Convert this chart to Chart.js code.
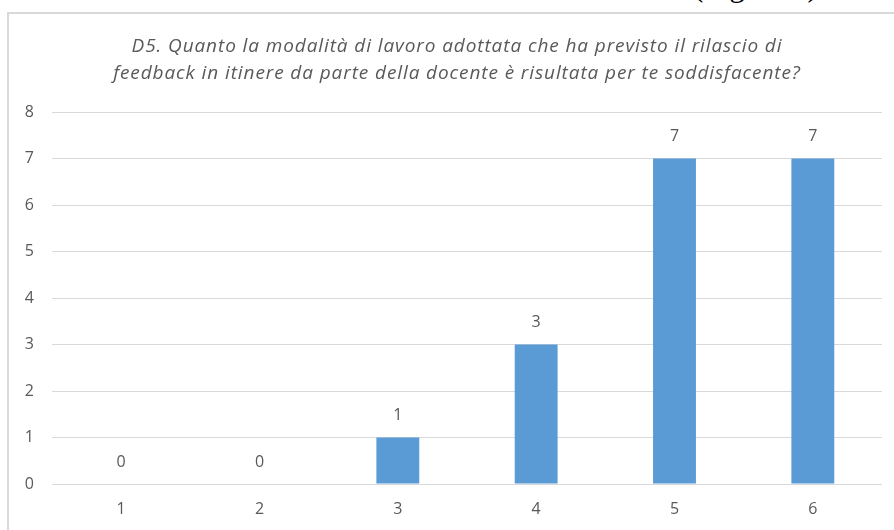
<!DOCTYPE html>
<html>
<head>
<meta charset="utf-8">
<script src="https://cdn.jsdelivr.net/npm/chart.js@4.4.1/dist/chart.umd.min.js"></script>
<style>
  html, body { margin: 0; padding: 0; background: #fff; }
  body { width: 894px; height: 530px; position: relative; overflow: hidden; }
  #cornice { position: absolute; left: 7px; top: 12px; width: 920px; height: 560px;
             border-left: 2px solid #d9d9d9; border-top: 2px solid #d9d9d9; }
  #figura { position: absolute; left: 693px; top: -31px; font-family: "Liberation Serif", serif;
            font-size: 31px; color: #000; white-space: nowrap; line-height: 34px; }
  #wrap { position: absolute; left: 0; top: 0; width: 894px; height: 530px; }
</style>
</head>
<body>
<div id="figura">(Figura 5)</div>
<div id="cornice"></div>
<div id="wrap"><canvas id="myChart" width="894" height="530"></canvas></div>
<script>
const categorie = ['1', '2', '3', '4', '5', '6']
const risposte = [0, 0, 1, 3, 7, 7]
const titolo = [
  'D5. Quanto la modalità di lavoro adottata che ha previsto il rilascio di',
  'feedback in itinere da parte della docente è risultata per te soddisfacente?'
]

const grigio = '#595959'
const font = '"Open Sans"'

// etichette sopra le colonne
const etichette = {
  id: 'etichette',
  afterDatasetsDraw(chart) {
    const ctx = chart.ctx
    const meta = chart.getDatasetMeta(0)
    ctx.save()
    ctx.font = '16px ' + font
    ctx.fillStyle = grigio
    ctx.textAlign = 'center'
    ctx.textBaseline = 'middle'
    meta.data.forEach((bar, i) => {
      ctx.fillText(String(risposte[i]), bar.x, bar.y - 22)
    })
    ctx.restore()
  }
}

// titolo in corsivo, un po' spaziato (come in Excel)
const titoloSpaziato = {
  id: 'titoloSpaziato',
  afterDraw(chart) {
    const ctx = chart.ctx
    ctx.save()
    ctx.font = 'italic 19px ' + font
    ctx.letterSpacing = '0.9px'
    ctx.fillStyle = grigio
    ctx.textAlign = 'center'
    ctx.textBaseline = 'middle'
    titolo.forEach((riga, i) => {
      ctx.fillText(riga, 457, 47 + i * 27)
    })
    ctx.restore()
  }
}

const $ctx = document.getElementById('myChart').getContext('2d')
new Chart($ctx, {
  type: 'bar',
  data: {
    labels: categorie,
    datasets: [{
      data: risposte,
      backgroundColor: '#5b9bd5',
      borderWidth: 0,
      categoryPercentage: 1,
      barPercentage: 0.31
    }]
  },
  options: {
    responsive: false,
    animation: false,
    layout: { padding: { left: 0, right: 12, top: 112, bottom: 0 } },
    plugins: {
      legend: { display: false },
      tooltip: { enabled: false },
      title: { display: false }
    },
    scales: {
      x: {
        afterFit(scale) { scale.height = 46 },
        grid: { display: false },
        border: { display: false },
        ticks: { color: grigio, font: { family: font, size: 16 }, padding: 8 }
      },
      y: {
        min: 0,
        max: 8,
        afterFit(scale) { scale.width = 52 },
        grid: { color: '#d9d9d9', lineWidth: 1, drawTicks: false },
        border: { display: false },
        ticks: { stepSize: 1, color: grigio, font: { family: font, size: 16 }, padding: 18 }
      }
    }
  },
  plugins: [etichette, titoloSpaziato]
})
</script>
</body>
</html>
